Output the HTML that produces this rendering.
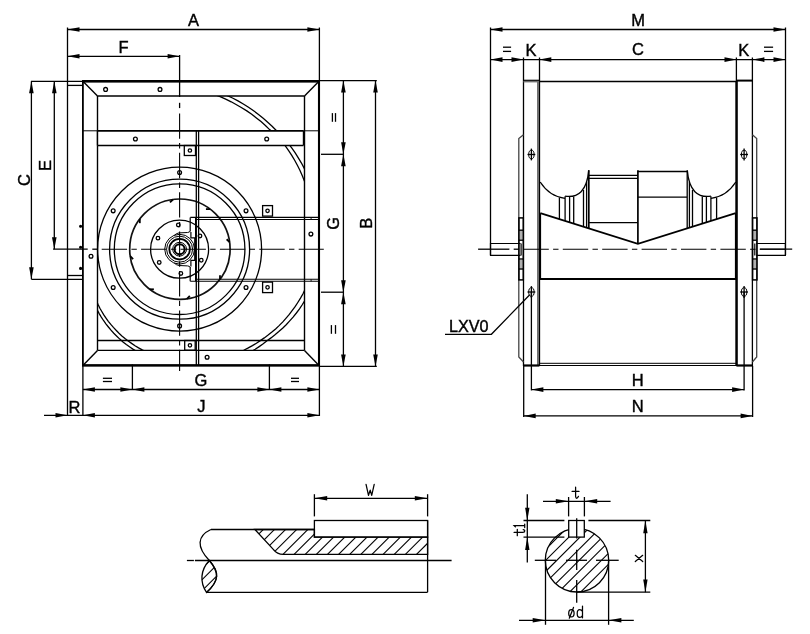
<!DOCTYPE html>
<html><head><meta charset="utf-8"><title>Fan dimensions</title>
<style>
html,body{margin:0;padding:0;background:#fff;}
svg{display:block;}
text{font-family:"Liberation Sans",sans-serif;fill:#000;stroke:#000;stroke-width:0.4px;}
svg{filter:grayscale(1);}
</style></head><body>
<svg width="810" height="634" viewBox="0 0 810 634" shape-rendering="geometricPrecision">
<rect x="0" y="0" width="810" height="634" fill="#fff"/>
<line x1="67.50" y1="29.50" x2="319.40" y2="29.50" stroke="#000" stroke-width="1.3" />
<polygon points="67.50,29.50 79.50,27.20 79.50,31.80" fill="#000"/>
<polygon points="319.40,29.50 307.40,27.20 307.40,31.80" fill="#000"/>
<line x1="67.50" y1="27.50" x2="67.50" y2="415.50" stroke="#000" stroke-width="1.3" />
<line x1="319.40" y1="27.50" x2="319.40" y2="81.00" stroke="#000" stroke-width="1.3" />
<text x="193.50" y="25.90" font-size="16.5" text-anchor="middle">A</text>
<line x1="67.50" y1="56.30" x2="179.60" y2="56.30" stroke="#000" stroke-width="1.3" />
<polygon points="67.50,56.30 79.50,54.00 79.50,58.60" fill="#000"/>
<polygon points="179.60,56.30 167.60,54.00 167.60,58.60" fill="#000"/>
<text x="123.60" y="52.80" font-size="16.5" text-anchor="middle">F</text>
<line x1="31.00" y1="81.30" x2="82.90" y2="81.30" stroke="#000" stroke-width="1.3" />
<line x1="67.50" y1="85.40" x2="82.90" y2="85.40" stroke="#000" stroke-width="1.3" />
<line x1="31.40" y1="81.30" x2="31.40" y2="279.30" stroke="#000" stroke-width="1.3" />
<polygon points="31.40,81.30 29.10,93.30 33.70,93.30" fill="#000"/>
<polygon points="31.40,279.30 29.10,267.30 33.70,267.30" fill="#000"/>
<line x1="54.30" y1="81.30" x2="54.30" y2="249.20" stroke="#000" stroke-width="1.3" />
<polygon points="54.30,81.30 52.00,93.30 56.60,93.30" fill="#000"/>
<polygon points="54.30,249.20 52.00,237.20 56.60,237.20" fill="#000"/>
<line x1="31.40" y1="279.30" x2="82.90" y2="279.30" stroke="#000" stroke-width="1.3" />
<line x1="67.50" y1="275.50" x2="82.90" y2="275.50" stroke="#000" stroke-width="1.3" />
<text x="29.50" y="180.00" font-size="16.5" text-anchor="middle" transform="rotate(-90 29.50 180.00)">C</text>
<text x="51.00" y="165.50" font-size="16.5" text-anchor="middle" transform="rotate(-90 51.00 165.50)">E</text>
<rect x="82.90" y="81.30" width="236.10" height="284.10" stroke="#000" stroke-width="1.8" fill="none"/>
<line x1="82.00" y1="81.20" x2="319.90" y2="81.20" stroke="#000" stroke-width="2.4" />
<line x1="82.00" y1="365.40" x2="319.90" y2="365.40" stroke="#000" stroke-width="2.2" />
<line x1="319.00" y1="81.30" x2="319.00" y2="365.40" stroke="#000" stroke-width="2.1" />
<line x1="97.50" y1="96.00" x2="304.50" y2="96.00" stroke="#000" stroke-width="1.4" />
<line x1="97.50" y1="350.40" x2="304.50" y2="350.40" stroke="#000" stroke-width="1.4" />
<line x1="97.50" y1="96.00" x2="97.50" y2="350.40" stroke="#000" stroke-width="1.4" />
<line x1="304.50" y1="96.00" x2="304.50" y2="350.40" stroke="#000" stroke-width="1.4" />
<line x1="82.90" y1="81.30" x2="97.50" y2="96.00" stroke="#000" stroke-width="1.4" />
<line x1="319.00" y1="81.30" x2="304.50" y2="96.00" stroke="#000" stroke-width="1.4" />
<line x1="82.90" y1="365.40" x2="97.50" y2="350.40" stroke="#000" stroke-width="1.4" />
<line x1="319.00" y1="365.40" x2="304.50" y2="350.40" stroke="#000" stroke-width="1.4" />
<line x1="97.50" y1="340.50" x2="304.50" y2="340.50" stroke="#000" stroke-width="1.3" />
<clipPath id="inner"><rect x="97.5" y="96.0" width="207.0" height="254.4"/></clipPath>
<path d="M88.8,265.2 L88.9,268.8 L89.2,272.4 L89.6,276.1 L90.1,279.7 L90.8,283.3 L91.7,287.0 L92.7,290.6 L93.8,294.2 L95.1,297.7 L96.6,301.2 L98.2,304.7 L99.9,308.2 L101.8,311.5 L103.8,314.9 L106.0,318.1 L108.3,321.3 L110.8,324.4 L113.4,327.4 L116.1,330.3 L119.0,333.2 L121.9,335.9 L125.0,338.5 L128.2,341.0 L131.6,343.4 L135.0,345.7 L138.6,347.9 L142.2,349.9 L145.9,351.7 L149.8,353.5 L153.7,355.0 L157.7,356.5 L161.8,357.7 L165.9,358.8 L170.1,359.8 L174.3,360.6 L178.6,361.2 L183.0,361.7 L187.3,362.0 L191.7,362.1 L196.1,362.1 L200.6,361.9 L205.0,361.5 L209.4,360.9 L213.9,360.2 L218.3,359.2 L222.7,358.1 L227.1,356.9 L231.4,355.4 L235.7,353.8 L240.0,352.0 L244.2,350.0 L248.3,347.9 L252.4,345.6 L256.4,343.2 L260.3,340.6 L264.3,337.9 L268.1,335.1 L271.9,332.1 L275.6,328.9 L279.1,325.6 L282.6,322.1 L285.9,318.4 L289.1,314.7 L292.1,310.7 L295.1,306.7 L297.8,302.5 L300.5,298.1 L303.0,293.7 L305.2,289.1 L307.1,284.4 L308.8,279.5 L310.3,274.6 L311.7,269.6 L312.8,264.6 L313.8,259.5 L314.6,254.3 L315.2,249.1 L315.6,243.9 L315.8,238.6 L315.7,233.3 L315.5,228.0 L315.1,222.7 L314.5,217.3 L313.6,212.0 L312.6,206.7 L311.3,201.5 L309.9,196.2 L308.2,191.0 L306.4,185.9 L304.3,180.8 L302.2,175.6 L300.0,170.5 L297.5,165.5 L294.8,160.5 L291.9,155.6 L288.8,150.8 L285.5,146.1 L281.8,141.8 L277.9,137.6 L273.8,133.5 L269.6,129.6 L265.4,125.5 L261.0,121.6 L256.4,117.9 L251.7,114.3 L246.8,110.9 L241.7,107.7 L236.5,104.7 L231.2,101.8 L225.7,99.1 L220.1,96.6 L214.4,94.4 L208.5,92.5 L202.6,90.7 L196.5,89.2 L190.4,87.9 L184.2,86.8 L177.9,86.0 L171.6,85.4 L165.2,85.0" stroke="#000" stroke-width="1.3" fill="none" clip-path="url(#inner)"/>
<path d="M86.1,265.7 L86.2,269.4 L86.4,273.2 L86.8,276.9 L87.3,280.7 L88.0,284.4 L88.9,288.2 L89.9,291.9 L91.1,295.6 L92.4,299.3 L93.9,302.9 L95.5,306.5 L97.3,310.1 L99.2,313.6 L101.3,317.1 L103.5,320.5 L105.9,323.8 L108.4,327.0 L111.0,330.2 L113.8,333.3 L116.8,336.2 L119.8,339.1 L123.0,341.9 L126.3,344.5 L129.8,347.0 L133.3,349.4 L137.0,351.6 L140.8,353.7 L144.7,355.7 L148.6,357.5 L152.7,359.1 L156.9,360.6 L161.1,361.9 L165.4,363.1 L169.7,364.1 L174.1,364.9 L178.6,365.6 L183.1,366.1 L187.6,366.4 L192.2,366.5 L196.8,366.5 L201.4,366.3 L206.0,365.9 L210.6,365.3 L215.2,364.5 L219.8,363.5 L224.4,362.4 L228.9,361.1 L233.4,359.6 L237.9,357.9 L242.3,356.0 L246.7,354.0 L251.0,351.8 L255.2,349.3 L259.2,346.6 L263.2,343.8 L267.0,340.8 L271.0,337.9 L275.0,334.8 L278.8,331.6 L282.6,328.2 L286.2,324.7 L289.7,320.9 L293.1,317.1 L296.4,313.0 L299.5,308.8 L302.4,304.5 L305.1,300.0 L307.5,295.3 L309.6,290.5 L311.6,285.6 L313.4,280.6 L315.0,275.5 L316.5,270.4 L317.7,265.1 L318.7,259.8 L319.5,254.5 L320.1,249.1 L320.6,243.7 L320.8,238.2 L320.8,232.7 L320.5,227.2 L320.1,221.7 L319.5,216.2 L318.6,210.7 L317.5,205.2 L316.2,199.7 L314.7,194.3 L313.0,188.9 L311.1,183.5 L308.9,178.3 L306.6,173.0 L304.0,167.9 L301.3,162.8 L298.3,157.8 L295.2,152.9 L291.9,148.1 L288.3,143.5 L284.5,139.0 L280.5,134.7 L276.3,130.5 L272.1,126.3 L267.7,122.2 L263.2,118.2 L258.5,114.4 L253.6,110.8 L248.5,107.3 L243.3,104.0 L238.0,100.9 L232.5,98.0 L226.9,95.4 L221.1,93.0 L215.2,90.8 L209.2,88.9 L203.1,87.2 L196.9,85.7 L190.6,84.4 L184.3,83.4 L177.9,82.6 L171.5,82.1 L165.0,81.8" stroke="#000" stroke-width="1.3" fill="none" clip-path="url(#inner)"/>
<line x1="82.90" y1="130.80" x2="319.00" y2="130.80" stroke="#000" stroke-width="1" />
<rect x="97.50" y="130.80" width="206.00" height="14.70" stroke="#000" stroke-width="0" fill="#fff"/>
<line x1="97.50" y1="130.80" x2="303.50" y2="130.80" stroke="#000" stroke-width="1.8" />
<line x1="97.50" y1="145.50" x2="303.50" y2="145.50" stroke="#000" stroke-width="1.3" />
<line x1="97.50" y1="130.80" x2="97.50" y2="145.50" stroke="#000" stroke-width="1.4" />
<line x1="303.50" y1="130.80" x2="303.50" y2="145.50" stroke="#000" stroke-width="1.4" />
<circle cx="105.60" cy="89.40" r="1.90" stroke="#000" stroke-width="1.3" fill="none"/>
<circle cx="160.00" cy="89.40" r="1.90" stroke="#000" stroke-width="1.3" fill="none"/>
<circle cx="135.40" cy="139.00" r="1.90" stroke="#000" stroke-width="1.3" fill="none"/>
<circle cx="266.70" cy="139.00" r="1.90" stroke="#000" stroke-width="1.3" fill="none"/>
<circle cx="91.00" cy="256.30" r="1.90" stroke="#000" stroke-width="1.3" fill="none"/>
<circle cx="310.90" cy="234.10" r="1.90" stroke="#000" stroke-width="1.3" fill="none"/>
<circle cx="207.10" cy="357.20" r="1.90" stroke="#000" stroke-width="1.3" fill="none"/>
<rect x="184.30" y="145.50" width="11.20" height="10.00" stroke="#000" stroke-width="1.3" fill="none"/>
<circle cx="189.90" cy="150.50" r="1.70" stroke="#000" stroke-width="1.3" fill="none"/>
<rect x="262.60" y="205.60" width="9.90" height="10.50" stroke="#000" stroke-width="1.3" fill="none"/>
<circle cx="267.55" cy="210.85" r="1.70" stroke="#000" stroke-width="1.3" fill="none"/>
<rect x="262.60" y="282.10" width="9.90" height="10.50" stroke="#000" stroke-width="1.3" fill="none"/>
<circle cx="267.55" cy="287.35" r="1.70" stroke="#000" stroke-width="1.3" fill="none"/>
<rect x="184.70" y="340.50" width="10.50" height="9.70" stroke="#000" stroke-width="1.3" fill="none"/>
<circle cx="189.95" cy="345.35" r="1.70" stroke="#000" stroke-width="1.3" fill="none"/>
<circle cx="80.60" cy="226.30" r="0.90" stroke="#000" stroke-width="1.3" fill="#000"/>
<circle cx="80.60" cy="247.20" r="0.90" stroke="#000" stroke-width="1.3" fill="#000"/>
<circle cx="80.60" cy="268.40" r="0.90" stroke="#000" stroke-width="1.3" fill="#000"/>
<circle cx="179.60" cy="249.20" r="82.00" stroke="#000" stroke-width="1.3" fill="none"/>
<circle cx="179.60" cy="249.20" r="70.00" stroke="#000" stroke-width="1.3" fill="none"/>
<circle cx="179.60" cy="249.20" r="65.30" stroke="#000" stroke-width="1.3" fill="none"/>
<circle cx="179.90" cy="249.20" r="50.20" stroke="#111" stroke-width="1.7" fill="none"/>
<circle cx="179.60" cy="249.20" r="29.00" stroke="#000" stroke-width="1.3" fill="none"/>
<circle cx="179.60" cy="249.20" r="14.90" stroke="#000" stroke-width="1.0" fill="none"/>
<circle cx="179.60" cy="249.20" r="13.00" stroke="#000" stroke-width="1.0" fill="none"/>
<circle cx="179.60" cy="249.20" r="10.30" stroke="#000" stroke-width="1.8" fill="none"/>
<circle cx="179.60" cy="249.20" r="6.90" stroke="#000" stroke-width="1.0" fill="none"/>
<circle cx="179.60" cy="249.20" r="5.00" stroke="#000" stroke-width="2.0" fill="none"/>
<circle cx="179.60" cy="172.50" r="1.90" stroke="#000" stroke-width="1.3" fill="none"/>
<circle cx="113.18" cy="210.85" r="1.90" stroke="#000" stroke-width="1.3" fill="none"/>
<circle cx="113.18" cy="287.55" r="1.90" stroke="#000" stroke-width="1.3" fill="none"/>
<circle cx="179.60" cy="325.90" r="1.90" stroke="#000" stroke-width="1.3" fill="none"/>
<circle cx="246.02" cy="287.55" r="1.90" stroke="#000" stroke-width="1.3" fill="none"/>
<circle cx="246.02" cy="210.85" r="1.90" stroke="#000" stroke-width="1.3" fill="none"/>
<circle cx="178.33" cy="224.93" r="1.80" stroke="#000" stroke-width="1.3" fill="none"/>
<circle cx="157.95" cy="238.17" r="1.80" stroke="#000" stroke-width="1.3" fill="none"/>
<circle cx="159.22" cy="262.43" r="1.80" stroke="#000" stroke-width="1.3" fill="none"/>
<circle cx="180.87" cy="273.47" r="1.80" stroke="#000" stroke-width="1.3" fill="none"/>
<circle cx="201.25" cy="260.23" r="1.80" stroke="#000" stroke-width="1.3" fill="none"/>
<circle cx="199.98" cy="235.97" r="1.80" stroke="#000" stroke-width="1.3" fill="none"/>
<line x1="229.61" y1="242.21" x2="226.66" y2="239.26" stroke="#000" stroke-width="1.8" />
<line x1="210.11" y1="209.11" x2="205.93" y2="209.11" stroke="#000" stroke-width="1.8" />
<line x1="172.91" y1="199.49" x2="169.96" y2="202.44" stroke="#000" stroke-width="1.8" />
<line x1="139.81" y1="218.99" x2="139.81" y2="223.17" stroke="#000" stroke-width="1.8" />
<line x1="130.19" y1="256.19" x2="133.14" y2="259.14" stroke="#000" stroke-width="1.8" />
<line x1="149.69" y1="289.29" x2="153.87" y2="289.29" stroke="#000" stroke-width="1.8" />
<line x1="186.89" y1="298.91" x2="189.84" y2="295.96" stroke="#000" stroke-width="1.8" />
<line x1="219.99" y1="279.41" x2="219.99" y2="275.23" stroke="#000" stroke-width="1.8" />
<line x1="190.30" y1="217.40" x2="319.00" y2="217.40" stroke="#000" stroke-width="1.1" />
<line x1="196.50" y1="219.50" x2="319.00" y2="219.50" stroke="#000" stroke-width="1.1" />
<line x1="190.30" y1="281.30" x2="319.00" y2="281.30" stroke="#000" stroke-width="1.1" />
<line x1="196.50" y1="279.20" x2="319.00" y2="279.20" stroke="#000" stroke-width="1.1" />
<path d="M190.2,217.4 V231.5 M190.9,232 V237.9 H195.6 M190.9,266.5 V260.3 H195.6 M190.2,267 V281.3 M195.6,217.4 V281.3" stroke="#000" stroke-width="1.2" fill="none" />
<line x1="194.90" y1="237.90" x2="194.90" y2="260.30" stroke="#000" stroke-width="1.5" />
<path d="M174.3,235.4 Q176,233.4 179,232.9 L187.5,232.5 Q189.3,232.3 190.2,231.2 M174.3,263.0 Q176,265.0 179,265.5 L187.5,265.9 Q189.3,266.1 190.2,267.2" stroke="#000" stroke-width="1" fill="none" />
<line x1="311.10" y1="217.40" x2="311.10" y2="219.40" stroke="#000" stroke-width="0.9" />
<line x1="311.10" y1="279.30" x2="311.10" y2="281.30" stroke="#000" stroke-width="0.9" />
<line x1="196.30" y1="130.80" x2="196.30" y2="365.00" stroke="#000" stroke-width="1.3" />
<line x1="198.60" y1="130.80" x2="198.60" y2="365.00" stroke="#000" stroke-width="1.3" />
<line x1="53.10" y1="249.20" x2="87.70" y2="249.20" stroke="#000" stroke-width="1.3" />
<line x1="92.30" y1="249.20" x2="97.30" y2="249.20" stroke="#000" stroke-width="1.3" />
<line x1="101.70" y1="249.20" x2="323.80" y2="249.20" stroke="#000" stroke-width="1.1" stroke-dasharray="25.4 4.3 5.4 4.3"/>
<line x1="179.60" y1="55.00" x2="179.60" y2="96.90" stroke="#000" stroke-width="1.3" />
<line x1="179.60" y1="102.80" x2="179.60" y2="108.10" stroke="#000" stroke-width="1.3" />
<line x1="179.60" y1="113.40" x2="179.60" y2="370.90" stroke="#000" stroke-width="1.1" stroke-dasharray="25.4 4.3 5.4 4.3"/>
<line x1="319.40" y1="80.60" x2="376.80" y2="80.60" stroke="#000" stroke-width="1.3" />
<line x1="319.40" y1="366.40" x2="376.80" y2="366.40" stroke="#000" stroke-width="1.3" />
<line x1="343.40" y1="80.60" x2="343.40" y2="366.40" stroke="#000" stroke-width="1.3" />
<line x1="375.50" y1="80.60" x2="375.50" y2="366.40" stroke="#000" stroke-width="1.3" />
<polygon points="343.40,80.60 341.10,92.60 345.70,92.60" fill="#000"/>
<polygon points="343.40,154.30 341.10,142.30 345.70,142.30" fill="#000"/>
<polygon points="343.40,154.30 341.10,166.30 345.70,166.30" fill="#000"/>
<polygon points="343.40,292.20 341.10,280.20 345.70,280.20" fill="#000"/>
<polygon points="343.40,292.20 341.10,304.20 345.70,304.20" fill="#000"/>
<polygon points="343.40,366.40 341.10,354.40 345.70,354.40" fill="#000"/>
<polygon points="375.50,80.60 373.20,92.60 377.80,92.60" fill="#000"/>
<polygon points="375.50,366.40 373.20,354.40 377.80,354.40" fill="#000"/>
<line x1="321.00" y1="154.30" x2="343.40" y2="154.30" stroke="#000" stroke-width="1.3" />
<line x1="321.00" y1="292.20" x2="343.40" y2="292.20" stroke="#000" stroke-width="1.3" />
<line x1="332.40" y1="113.10" x2="332.40" y2="121.80" stroke="#000" stroke-width="1.3" />
<line x1="335.50" y1="113.10" x2="335.50" y2="121.80" stroke="#000" stroke-width="1.3" />
<line x1="331.40" y1="325.10" x2="331.40" y2="333.80" stroke="#000" stroke-width="1.3" />
<line x1="335.50" y1="325.10" x2="335.50" y2="333.80" stroke="#000" stroke-width="1.3" />
<text x="339.40" y="223.20" font-size="16.5" text-anchor="middle" transform="rotate(-90 339.40 223.20)">G</text>
<text x="372.50" y="223.20" font-size="16.5" text-anchor="middle" transform="rotate(-90 372.50 223.20)">B</text>
<line x1="132.40" y1="364.50" x2="132.40" y2="389.50" stroke="#000" stroke-width="1.3" />
<line x1="269.40" y1="364.50" x2="269.40" y2="389.50" stroke="#000" stroke-width="1.3" />
<line x1="82.90" y1="365.00" x2="82.90" y2="415.50" stroke="#000" stroke-width="1.3" />
<line x1="319.40" y1="365.00" x2="319.40" y2="416.00" stroke="#000" stroke-width="1.3" />
<line x1="82.90" y1="389.50" x2="319.40" y2="389.50" stroke="#000" stroke-width="1.3" />
<polygon points="82.90,389.50 94.90,387.20 94.90,391.80" fill="#000"/>
<polygon points="132.40,389.50 120.40,387.20 120.40,391.80" fill="#000"/>
<polygon points="132.40,389.50 144.40,387.20 144.40,391.80" fill="#000"/>
<polygon points="269.40,389.50 257.40,387.20 257.40,391.80" fill="#000"/>
<polygon points="269.40,389.50 281.40,387.20 281.40,391.80" fill="#000"/>
<polygon points="319.40,389.50 307.40,387.20 307.40,391.80" fill="#000"/>
<line x1="44.00" y1="415.30" x2="319.40" y2="415.30" stroke="#000" stroke-width="1.3" />
<polygon points="67.50,415.30 55.50,413.00 55.50,417.60" fill="#000"/>
<polygon points="82.90,415.30 94.90,413.00 94.90,417.60" fill="#000"/>
<polygon points="319.40,415.30 307.40,413.00 307.40,417.60" fill="#000"/>
<line x1="102.90" y1="378.30" x2="112.00" y2="378.30" stroke="#000" stroke-width="1.3" />
<line x1="102.90" y1="381.50" x2="112.00" y2="381.50" stroke="#000" stroke-width="1.3" />
<line x1="291.00" y1="378.30" x2="299.00" y2="378.30" stroke="#000" stroke-width="1.3" />
<line x1="291.00" y1="381.50" x2="299.00" y2="381.50" stroke="#000" stroke-width="1.3" />
<text x="201.00" y="385.50" font-size="16.5" text-anchor="middle">G</text>
<text x="201.30" y="412.00" font-size="16.5" text-anchor="middle">J</text>
<text x="74.50" y="412.50" font-size="16.5" text-anchor="middle">R</text>
<line x1="490.50" y1="29.50" x2="785.50" y2="29.50" stroke="#000" stroke-width="1.3" />
<polygon points="490.50,29.50 502.50,27.20 502.50,31.80" fill="#000"/>
<polygon points="785.50,29.50 773.50,27.20 773.50,31.80" fill="#000"/>
<text x="638.10" y="25.50" font-size="16.5" text-anchor="middle">M</text>
<line x1="490.50" y1="27.50" x2="490.50" y2="255.00" stroke="#000" stroke-width="1.3" />
<line x1="785.50" y1="27.50" x2="785.50" y2="255.00" stroke="#000" stroke-width="1.3" />
<line x1="490.50" y1="59.60" x2="785.50" y2="59.60" stroke="#000" stroke-width="1.3" />
<polygon points="490.50,59.60 502.50,57.30 502.50,61.90" fill="#000"/>
<polygon points="523.50,59.60 511.50,57.30 511.50,61.90" fill="#000"/>
<polygon points="539.30,59.60 551.30,57.30 551.30,61.90" fill="#000"/>
<polygon points="736.50,59.60 724.50,57.30 724.50,61.90" fill="#000"/>
<polygon points="752.40,59.60 764.40,57.30 764.40,61.90" fill="#000"/>
<polygon points="785.50,59.60 773.50,57.30 773.50,61.90" fill="#000"/>
<text x="637.90" y="55.00" font-size="16.5" text-anchor="middle">C</text>
<text x="530.90" y="55.50" font-size="16.5" text-anchor="middle">K</text>
<text x="743.80" y="55.50" font-size="16.5" text-anchor="middle">K</text>
<line x1="503.00" y1="47.20" x2="511.10" y2="47.20" stroke="#000" stroke-width="1.3" />
<line x1="503.00" y1="51.40" x2="511.10" y2="51.40" stroke="#000" stroke-width="1.3" />
<line x1="764.00" y1="47.20" x2="773.10" y2="47.20" stroke="#000" stroke-width="1.3" />
<line x1="764.00" y1="51.40" x2="773.10" y2="51.40" stroke="#000" stroke-width="1.3" />
<line x1="523.50" y1="57.50" x2="523.50" y2="366.00" stroke="#000" stroke-width="1.3" />
<line x1="539.50" y1="57.50" x2="539.50" y2="366.00" stroke="#000" stroke-width="1.3" />
<line x1="736.40" y1="57.50" x2="736.40" y2="366.00" stroke="#000" stroke-width="1.3" />
<line x1="752.40" y1="57.50" x2="752.40" y2="366.00" stroke="#000" stroke-width="1.3" />
<line x1="538.00" y1="81.00" x2="538.00" y2="366.00" stroke="#707070" stroke-width="2" />
<line x1="736.60" y1="81.00" x2="736.60" y2="366.00" stroke="#000" stroke-width="2.4" />
<line x1="523.50" y1="80.30" x2="539.40" y2="80.30" stroke="#000" stroke-width="1.2" />
<line x1="523.50" y1="81.70" x2="538.00" y2="81.70" stroke="#707070" stroke-width="1.4" />
<line x1="736.40" y1="80.60" x2="752.40" y2="80.60" stroke="#000" stroke-width="2" />
<line x1="539.40" y1="81.50" x2="736.40" y2="81.50" stroke="#000" stroke-width="1.3" />
<line x1="523.50" y1="365.50" x2="539.40" y2="365.50" stroke="#000" stroke-width="2.2" />
<line x1="736.40" y1="365.50" x2="752.40" y2="365.50" stroke="#000" stroke-width="2.2" />
<line x1="539.40" y1="363.30" x2="736.40" y2="363.30" stroke="#000" stroke-width="1" />
<line x1="539.40" y1="365.50" x2="736.40" y2="365.50" stroke="#000" stroke-width="1" />
<path d="M523.5,134.8 L518.8,138.6 V357 L523.5,362" stroke="#444" stroke-width="1.3" fill="none" />
<path d="M752.4,134.8 L756.7,138.6 V357 L752.4,362" stroke="#444" stroke-width="1.3" fill="none" />
<rect x="519.50" y="231.00" width="3.20" height="8.50" stroke="#000" stroke-width="0" fill="#b0b0b0"/>
<rect x="519.50" y="260.00" width="3.20" height="8.50" stroke="#000" stroke-width="0" fill="#b0b0b0"/>
<rect x="518.90" y="217.90" width="4.40" height="62.00" stroke="#000" stroke-width="1.5" fill="none"/>
<line x1="518.90" y1="230.20" x2="523.30" y2="230.20" stroke="#000" stroke-width="1.4" />
<line x1="518.90" y1="240.20" x2="523.30" y2="240.20" stroke="#000" stroke-width="1.4" />
<line x1="518.90" y1="259.00" x2="523.30" y2="259.00" stroke="#000" stroke-width="1.4" />
<line x1="518.90" y1="269.00" x2="523.30" y2="269.00" stroke="#000" stroke-width="1.4" />
<line x1="521.10" y1="243.50" x2="521.10" y2="255.40" stroke="#000" stroke-width="1.2" />
<rect x="753.20" y="231.00" width="3.20" height="8.50" stroke="#000" stroke-width="0" fill="#b0b0b0"/>
<rect x="753.20" y="260.00" width="3.20" height="8.50" stroke="#000" stroke-width="0" fill="#b0b0b0"/>
<rect x="752.60" y="217.90" width="4.40" height="62.00" stroke="#000" stroke-width="1.5" fill="none"/>
<line x1="752.60" y1="230.20" x2="757.00" y2="230.20" stroke="#000" stroke-width="1.4" />
<line x1="752.60" y1="240.20" x2="757.00" y2="240.20" stroke="#000" stroke-width="1.4" />
<line x1="752.60" y1="259.00" x2="757.00" y2="259.00" stroke="#000" stroke-width="1.4" />
<line x1="752.60" y1="269.00" x2="757.00" y2="269.00" stroke="#000" stroke-width="1.4" />
<line x1="754.80" y1="243.50" x2="754.80" y2="255.40" stroke="#000" stroke-width="1.2" />
<path d="M520.5,243.5 H490.5 V255.4 H520.5" stroke="#000" stroke-width="1.2" fill="none" />
<path d="M756.3,243.5 H785.4 V255.4 H756.3" stroke="#000" stroke-width="1.2" fill="none" />
<ellipse cx="531.4" cy="154.5" rx="2.7" ry="4.3" stroke="#000" fill="none"/>
<line x1="527.50" y1="154.50" x2="535.30" y2="154.50" stroke="#000" stroke-width="1.3" />
<line x1="531.40" y1="148.60" x2="531.40" y2="160.40" stroke="#000" stroke-width="1.3" />
<ellipse cx="744.1" cy="154.5" rx="2.7" ry="4.3" stroke="#000" fill="none"/>
<line x1="740.20" y1="154.50" x2="748.00" y2="154.50" stroke="#000" stroke-width="1.3" />
<line x1="744.10" y1="148.60" x2="744.10" y2="160.40" stroke="#000" stroke-width="1.3" />
<ellipse cx="531.4" cy="292.0" rx="2.7" ry="4.3" stroke="#000" fill="none"/>
<line x1="527.50" y1="292.00" x2="535.30" y2="292.00" stroke="#000" stroke-width="1.3" />
<line x1="531.40" y1="286.10" x2="531.40" y2="297.90" stroke="#000" stroke-width="1.3" />
<ellipse cx="744.1" cy="292.0" rx="2.7" ry="4.3" stroke="#000" fill="none"/>
<line x1="740.20" y1="292.00" x2="748.00" y2="292.00" stroke="#000" stroke-width="1.3" />
<line x1="744.10" y1="286.10" x2="744.10" y2="297.90" stroke="#000" stroke-width="1.3" />
<line x1="531.40" y1="292.00" x2="531.40" y2="390.40" stroke="#000" stroke-width="1.3" />
<line x1="744.10" y1="292.00" x2="744.10" y2="390.40" stroke="#000" stroke-width="1.3" />
<line x1="540.20" y1="213.30" x2="540.20" y2="279.00" stroke="#000" stroke-width="1.8" />
<line x1="735.80" y1="213.30" x2="735.80" y2="279.00" stroke="#000" stroke-width="1.8" />
<line x1="539.40" y1="279.00" x2="736.40" y2="279.00" stroke="#000" stroke-width="1.8" />
<path d="M540.3,213.1 L637.9,243.9 L735.7,213.1" stroke="#000" stroke-width="1.7" fill="none" />
<line x1="637.90" y1="170.20" x2="637.90" y2="243.90" stroke="#000" stroke-width="1.7" />
<line x1="588.80" y1="170.20" x2="588.80" y2="228.40" stroke="#000" stroke-width="1.7" />
<line x1="687.20" y1="170.60" x2="687.20" y2="228.40" stroke="#000" stroke-width="1.3" />
<line x1="637.90" y1="171.50" x2="687.00" y2="171.50" stroke="#000" stroke-width="1.3" />
<line x1="637.90" y1="197.20" x2="687.00" y2="197.20" stroke="#000" stroke-width="1.3" />
<line x1="588.70" y1="175.30" x2="637.90" y2="175.30" stroke="#000" stroke-width="1.3" />
<line x1="588.70" y1="178.30" x2="637.90" y2="178.30" stroke="#000" stroke-width="1.3" />
<line x1="588.70" y1="222.70" x2="637.90" y2="222.70" stroke="#000" stroke-width="1.3" />
<path d="M540.2,182 Q549.5,196.5 565,198.3 M565.1,196.2 C578,198 587,191 588.7,170.4" stroke="#000" stroke-width="1.3" fill="none" />
<path d="M735.8,182 Q726.5,196.5 711,198.3 M710.9,196.2 C698,198 689,191 687.3,170.4" stroke="#000" stroke-width="1.3" fill="none" />
<line x1="559.40" y1="197.50" x2="559.40" y2="219.13" stroke="#000" stroke-width="1.3" />
<line x1="565.10" y1="196.20" x2="565.10" y2="220.93" stroke="#000" stroke-width="1.3" />
<line x1="569.60" y1="196.70" x2="569.60" y2="222.35" stroke="#000" stroke-width="1.3" />
<line x1="573.70" y1="196.50" x2="573.70" y2="223.64" stroke="#000" stroke-width="1.3" />
<line x1="583.50" y1="190.00" x2="583.50" y2="226.73" stroke="#000" stroke-width="1.3" />
<line x1="586.60" y1="182.00" x2="586.60" y2="227.71" stroke="#000" stroke-width="1.3" />
<line x1="689.40" y1="182.00" x2="689.40" y2="227.68" stroke="#000" stroke-width="1.3" />
<line x1="692.50" y1="190.00" x2="692.50" y2="226.70" stroke="#000" stroke-width="1.3" />
<line x1="702.30" y1="196.50" x2="702.30" y2="223.62" stroke="#000" stroke-width="1.3" />
<line x1="706.40" y1="196.70" x2="706.40" y2="222.33" stroke="#000" stroke-width="1.3" />
<line x1="710.90" y1="196.20" x2="710.90" y2="220.91" stroke="#000" stroke-width="1.3" />
<line x1="716.60" y1="197.50" x2="716.60" y2="219.12" stroke="#000" stroke-width="1.3" />
<line x1="478.10" y1="249.20" x2="509.40" y2="249.20" stroke="#000" stroke-width="1.3" />
<line x1="513.70" y1="249.20" x2="519.10" y2="249.20" stroke="#000" stroke-width="1.3" />
<line x1="759.90" y1="249.20" x2="792.20" y2="249.20" stroke="#000" stroke-width="1.3" />
<line x1="523.40" y1="249.20" x2="785.30" y2="249.20" stroke="#000" stroke-width="1.1" stroke-dasharray="25.4 4.3 5.4 4.3"/>
<line x1="531.40" y1="389.60" x2="744.10" y2="389.60" stroke="#000" stroke-width="1.3" />
<polygon points="531.40,389.60 543.40,387.30 543.40,391.90" fill="#000"/>
<polygon points="744.10,389.60 732.10,387.30 732.10,391.90" fill="#000"/>
<text x="637.80" y="386.20" font-size="16.5" text-anchor="middle">H</text>
<line x1="523.70" y1="415.90" x2="752.60" y2="415.90" stroke="#000" stroke-width="1.3" />
<polygon points="523.70,415.90 535.70,413.60 535.70,418.20" fill="#000"/>
<polygon points="752.60,415.90 740.60,413.60 740.60,418.20" fill="#000"/>
<text x="637.80" y="412.20" font-size="16.5" text-anchor="middle">N</text>
<line x1="523.70" y1="366.00" x2="523.70" y2="417.00" stroke="#000" stroke-width="1.3" />
<line x1="752.60" y1="366.00" x2="752.60" y2="417.00" stroke="#000" stroke-width="1.3" />
<text x="468.70" y="331.50" font-size="16.2" text-anchor="middle">LXV0</text>
<path d="M445,334.3 H491.4 L529.5,295" stroke="#000" stroke-width="1.3" fill="none" />
<clipPath id="c1"><path d="M254.9,529.5 H314.4 V537.1 H427.6 V554.3 H283.3 Q277,554.3 273.5,549.6 Z"/></clipPath>
<g clip-path="url(#c1)" stroke="#000" stroke-width="1.1"><line x1="250.00" y1="509.41" x2="430.00" y2="329.41"/><line x1="250.00" y1="520.54" x2="430.00" y2="340.54"/><line x1="250.00" y1="531.67" x2="430.00" y2="351.67"/><line x1="250.00" y1="542.80" x2="430.00" y2="362.80"/><line x1="250.00" y1="553.93" x2="430.00" y2="373.93"/><line x1="250.00" y1="565.06" x2="430.00" y2="385.06"/><line x1="250.00" y1="576.19" x2="430.00" y2="396.19"/><line x1="250.00" y1="587.32" x2="430.00" y2="407.32"/><line x1="250.00" y1="598.45" x2="430.00" y2="418.45"/><line x1="250.00" y1="609.58" x2="430.00" y2="429.58"/><line x1="250.00" y1="620.71" x2="430.00" y2="440.71"/><line x1="250.00" y1="631.84" x2="430.00" y2="451.84"/><line x1="250.00" y1="642.97" x2="430.00" y2="462.97"/><line x1="250.00" y1="654.10" x2="430.00" y2="474.10"/><line x1="250.00" y1="665.23" x2="430.00" y2="485.23"/><line x1="250.00" y1="676.36" x2="430.00" y2="496.36"/><line x1="250.00" y1="687.49" x2="430.00" y2="507.49"/><line x1="250.00" y1="698.62" x2="430.00" y2="518.62"/><line x1="250.00" y1="709.75" x2="430.00" y2="529.75"/><line x1="250.00" y1="720.88" x2="430.00" y2="540.88"/><line x1="250.00" y1="732.01" x2="430.00" y2="552.01"/><line x1="250.00" y1="743.14" x2="430.00" y2="563.14"/><line x1="250.00" y1="754.27" x2="430.00" y2="574.27"/></g>
<path d="M254.9,529.5 H314.4 V537.1 H427.6 V554.3 H283.3 Q277,554.3 273.5,549.6 Z" stroke="#000" stroke-width="1.3" fill="none" />
<line x1="210.90" y1="529.50" x2="314.40" y2="529.50" stroke="#000" stroke-width="1.3" />
<line x1="206.50" y1="592.40" x2="427.60" y2="592.40" stroke="#000" stroke-width="1.3" />
<rect x="314.40" y="520.50" width="113.20" height="16.60" stroke="#000" stroke-width="1.3" fill="none"/>
<line x1="427.60" y1="520.50" x2="427.60" y2="592.20" stroke="#000" stroke-width="1.3" />
<path d="M210.9,529.5 C197,536 196.5,547 209.3,560.5 C219.5,572 219.5,581 206.5,592.4" stroke="#000" stroke-width="1.3" fill="none" />
<clipPath id="c2"><path d="M209.3,560.5 C200.5,570 199.5,582 206.5,592.4 C219.5,581 219.5,572 209.3,560.5 Z"/></clipPath>
<g clip-path="url(#c2)" stroke="#000" stroke-width="1.1"><line x1="195.00" y1="542.15" x2="222.00" y2="515.15"/><line x1="195.00" y1="553.28" x2="222.00" y2="526.28"/><line x1="195.00" y1="564.41" x2="222.00" y2="537.41"/><line x1="195.00" y1="575.54" x2="222.00" y2="548.54"/><line x1="195.00" y1="586.67" x2="222.00" y2="559.67"/><line x1="195.00" y1="597.80" x2="222.00" y2="570.80"/><line x1="195.00" y1="608.93" x2="222.00" y2="581.93"/><line x1="195.00" y1="620.06" x2="222.00" y2="593.06"/><line x1="195.00" y1="631.19" x2="222.00" y2="604.19"/><line x1="195.00" y1="642.32" x2="222.00" y2="615.32"/></g>
<path d="M209.3,560.5 C200.5,570 199.5,582 206.5,592.4 C219.5,581 219.5,572 209.3,560.5 Z" stroke="#000" stroke-width="1.3" fill="none" />
<line x1="186.90" y1="560.50" x2="193.90" y2="560.50" stroke="#000" stroke-width="1.3" />
<line x1="194.90" y1="560.50" x2="451.60" y2="560.50" stroke="#000" stroke-width="1.3" />
<line x1="314.40" y1="494.20" x2="314.40" y2="516.40" stroke="#000" stroke-width="1.3" />
<line x1="427.60" y1="494.20" x2="427.60" y2="516.40" stroke="#000" stroke-width="1.3" />
<line x1="314.40" y1="498.30" x2="427.60" y2="498.30" stroke="#000" stroke-width="1.3" />
<polygon points="314.40,498.30 327.20,496.10 327.20,500.50" fill="#000"/>
<polygon points="427.60,498.30 414.80,496.10 414.80,500.50" fill="#000"/>
<path d="M366.05,484.4 L368.5,495.3 L370.2,490.1 L371.7,495.3 L374.2,484.4" stroke="#000" stroke-width="1.25" fill="none" stroke-linejoin="round" stroke-linecap="round"/>
<clipPath id="c3"><circle cx="577.0" cy="560.3" r="31.7"/></clipPath>
<g clip-path="url(#c3)" stroke="#000" stroke-width="1.1"><line x1="540.00" y1="510.37" x2="612.00" y2="438.37"/><line x1="540.00" y1="521.50" x2="612.00" y2="449.50"/><line x1="540.00" y1="532.63" x2="612.00" y2="460.63"/><line x1="540.00" y1="543.76" x2="612.00" y2="471.76"/><line x1="540.00" y1="554.89" x2="612.00" y2="482.89"/><line x1="540.00" y1="566.02" x2="612.00" y2="494.02"/><line x1="540.00" y1="577.15" x2="612.00" y2="505.15"/><line x1="540.00" y1="588.28" x2="612.00" y2="516.28"/><line x1="540.00" y1="599.41" x2="612.00" y2="527.41"/><line x1="540.00" y1="610.54" x2="612.00" y2="538.54"/><line x1="540.00" y1="621.67" x2="612.00" y2="549.67"/><line x1="540.00" y1="632.80" x2="612.00" y2="560.80"/><line x1="540.00" y1="643.93" x2="612.00" y2="571.93"/><line x1="540.00" y1="655.06" x2="612.00" y2="583.06"/><line x1="540.00" y1="666.19" x2="612.00" y2="594.19"/><line x1="540.00" y1="677.32" x2="612.00" y2="605.32"/><line x1="540.00" y1="688.45" x2="612.00" y2="616.45"/></g>
<circle cx="577.00" cy="560.30" r="31.70" stroke="#000" stroke-width="1.3" fill="none"/>
<rect x="568.70" y="520.50" width="15.60" height="16.60" stroke="#000" stroke-width="1.3" fill="#fff"/>
<line x1="534.80" y1="560.30" x2="556.00" y2="560.30" stroke="#000" stroke-width="1.3" />
<line x1="566.00" y1="560.30" x2="587.00" y2="560.30" stroke="#000" stroke-width="1.3" />
<line x1="596.00" y1="560.30" x2="618.70" y2="560.30" stroke="#000" stroke-width="1.3" />
<line x1="576.70" y1="518.20" x2="576.70" y2="538.40" stroke="#000" stroke-width="1.3" />
<line x1="576.70" y1="549.80" x2="576.70" y2="570.00" stroke="#000" stroke-width="1.3" />
<line x1="576.70" y1="580.00" x2="576.70" y2="602.80" stroke="#000" stroke-width="1.3" />
<line x1="543.00" y1="501.30" x2="610.60" y2="501.30" stroke="#000" stroke-width="1.3" />
<line x1="568.60" y1="497.00" x2="568.60" y2="516.40" stroke="#000" stroke-width="1.3" />
<line x1="584.40" y1="497.00" x2="584.40" y2="516.40" stroke="#000" stroke-width="1.3" />
<polygon points="568.60,501.30 555.80,499.10 555.80,503.50" fill="#000"/>
<polygon points="584.40,501.30 597.20,499.10 597.20,503.50" fill="#000"/>
<path d="M575.6,487.2 V496.4 Q575.8,498.3 576.7,498.3 Q577.8,498 578.5,496.3 M572.1,491.4 H579" stroke="#000" stroke-width="1.25" fill="none" stroke-linecap="round"/>
<line x1="527.30" y1="494.20" x2="527.30" y2="562.40" stroke="#000" stroke-width="1.3" />
<line x1="523.50" y1="520.50" x2="564.40" y2="520.50" stroke="#000" stroke-width="1.3" />
<line x1="523.50" y1="537.10" x2="564.40" y2="537.10" stroke="#000" stroke-width="1.3" />
<polygon points="527.30,520.50 525.10,507.70 529.50,507.70" fill="#000"/>
<polygon points="527.30,537.10 525.10,549.90 529.50,549.90" fill="#000"/>
<path d="M514.1,532.4 H522.8 Q524.8,532.4 524.8,530.8 Q524.6,529.8 523.2,529.6 M517.3,529.3 V535.7 M515.4,526.9 L514.1,525.6 H524.8 M524.7,524.1 V527.6" stroke="#000" stroke-width="1.25" fill="none" stroke-linecap="round"/>
<line x1="645.40" y1="520.50" x2="645.40" y2="592.20" stroke="#000" stroke-width="1.3" />
<line x1="588.40" y1="520.50" x2="650.30" y2="520.50" stroke="#000" stroke-width="1.3" />
<line x1="576.50" y1="592.20" x2="650.30" y2="592.20" stroke="#000" stroke-width="1.3" />
<polygon points="645.40,520.50 643.20,533.30 647.60,533.30" fill="#000"/>
<polygon points="645.40,592.20 643.20,579.40 647.60,579.40" fill="#000"/>
<path d="M635.3,555.3 L642.7,561.5 M635.3,561.5 L642.7,555.3" stroke="#000" stroke-width="1.25" fill="none" stroke-linecap="round"/>
<line x1="519.00" y1="620.30" x2="633.80" y2="620.30" stroke="#000" stroke-width="1.3" />
<line x1="545.50" y1="560.40" x2="545.50" y2="624.80" stroke="#000" stroke-width="1.3" />
<line x1="608.60" y1="560.40" x2="608.60" y2="624.80" stroke="#000" stroke-width="1.3" />
<polygon points="545.50,620.30 532.70,618.10 532.70,622.50" fill="#000"/>
<polygon points="608.60,620.30 621.40,618.10 621.40,622.50" fill="#000"/>
<ellipse cx="571.4" cy="613.2" rx="2.7" ry="3.7" stroke="#000" stroke-width="1.25" fill="none"/>
<path d="M569.3,618.2 L573.5,607.4 M582.5,606.1 V617.8 M582.5,611.5 Q581.5,609.6 579.7,609.6 Q577.2,609.6 577.2,613.5 Q577.2,617.4 579.7,617.4 Q581.5,617.4 582.5,615.5" stroke="#000" stroke-width="1.25" fill="none" stroke-linecap="round"/>
</svg>
</body></html>
